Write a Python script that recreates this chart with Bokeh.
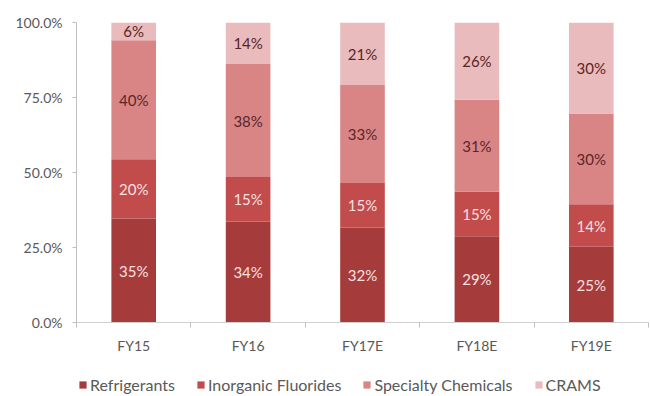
import numpy as np
from bokeh.plotting import figure
from bokeh.layouts import column
from bokeh.models import (ColumnDataSource, Range1d, FixedTicker, NumeralTickFormatter,
                          Legend, LegendItem)
from bokeh.core.properties import value
from bokeh.embed import file_html
from bokeh.resources import INLINE

# Revenue mix by segment (%)
years = ["FY15", "FY16", "FY17E", "FY18E", "FY19E"]
refrigerants = [35, 34, 32, 29, 25]
inorganic_fluorides = [20, 15, 15, 15, 14]
specialty_chemicals = [40, 38, 33, 31, 30]
crams = [6, 14, 21, 26, 30]

series_names = ["Refrigerants", "Inorganic Fluorides", "Specialty Chemicals", "CRAMS"]
series_values = [refrigerants, inorganic_fluorides, specialty_chemicals, crams]
colors = ["#A63B3B", "#C24B4C", "#D98586", "#E9BBBC"]
label_colors = ["#F6E0E0", "#F6E0E0", "#5A2526", "#5A2526"]
y_ticks = [0, 0.25, 0.5, 0.75, 1.0]

FONT = "Lato"

raw = np.array(series_values, dtype=float)
shares = raw / raw.sum(axis=0)          # 100% stacked
x_pos = np.arange(len(years)) + 0.5

data = {"x": x_pos}
keys = []
for i, name in enumerate(series_names):
    k = f"s{i}"
    keys.append(k)
    data[k] = shares[i]
source = ColumnDataSource(data)

p = figure(width=650, height=362, output_backend="svg", toolbar_location=None,
           x_range=Range1d(0, len(years)), y_range=Range1d(0, 1),
           min_border_left=76, min_border_right=2, min_border_top=22,
           min_border_bottom=40)
p.outline_line_color = None
p.xgrid.visible = False
p.ygrid.visible = False
p.background_fill_color = "white"
p.border_fill_color = "white"

p.vbar_stack(keys, x="x", width=0.39, color=colors, line_color=None, source=source)

# Value labels centred in each segment
bottoms = np.vstack([np.zeros(len(years)), np.cumsum(shares, axis=0)[:-1]])
for i in range(len(series_names)):
    mids = bottoms[i] + shares[i] / 2
    lbl = ColumnDataSource({"x": x_pos, "y": mids,
                            "t": [f"{int(v)}%" for v in raw[i]]})
    p.text(x="x", y="y", text="t", source=lbl, text_align="center",
           text_baseline="middle", text_font=value(FONT), text_font_size="15px",
           text_color=label_colors[i])

# Axes
p.yaxis.ticker = FixedTicker(ticks=y_ticks)
p.yaxis.formatter = NumeralTickFormatter(format="0.0%")
p.yaxis.axis_line_color = "#BFBFBF"
p.yaxis.major_tick_line_color = "#BFBFBF"
p.yaxis.major_tick_out = 4
p.yaxis.major_tick_in = 0
p.yaxis.minor_tick_line_color = None
p.yaxis.major_label_standoff = 10
p.yaxis.major_label_text_font = FONT
p.yaxis.major_label_text_font_size = "14px"
p.yaxis.major_label_text_color = "#595959"

edges = list(np.arange(len(years) + 1, dtype=float))
p.xaxis.ticker = FixedTicker(ticks=list(x_pos), minor_ticks=edges)
p.xaxis.major_label_overrides = {float(x): y for x, y in zip(x_pos, years)}
p.xaxis.axis_line_color = "#D0D0D0"
p.xaxis.major_tick_line_color = None
p.xaxis.minor_tick_line_color = "#BFBFBF"
p.xaxis.minor_tick_out = 5
p.xaxis.minor_tick_in = 0
p.xaxis.major_tick_out = 0
p.xaxis.major_tick_in = 0
p.xaxis.major_label_standoff = 9
p.xaxis.major_label_text_font = FONT
p.xaxis.major_label_text_font_size = "14px"
p.xaxis.major_label_text_color = "#595959"

# Legend strip under the chart; its swatch glyphs have zero size so only
# the legend icons show.
leg_fig = figure(width=650, height=34, output_backend="svg", toolbar_location=None,
                 x_axis_type=None, y_axis_type=None,
                 x_range=Range1d(0, 1), y_range=Range1d(0, 1),
                 min_border_left=0, min_border_right=0, min_border_top=0,
                 min_border_bottom=0)
leg_fig.outline_line_color = None
leg_fig.xgrid.visible = False
leg_fig.ygrid.visible = False
swatches = [leg_fig.vbar(x=[0], top=[0], bottom=[0], width=0, color=c, line_color=None)
            for c in colors]
legend = Legend(items=[LegendItem(label=n, renderers=[r]) for n, r in zip(series_names, swatches)],
                orientation="horizontal", location=(2, 2),
                glyph_width=9, glyph_height=9, label_standoff=3, spacing=21,
                label_text_font=FONT, label_text_font_size="16px",
                label_text_color="#595959", label_height=14,
                padding=0, margin=0, border_line_color=None,
                background_fill_alpha=0)
leg_fig.add_layout(legend, "center")

layout = column(p, leg_fig, spacing=0)
open("out.html", "w").write(file_html(layout, INLINE))
